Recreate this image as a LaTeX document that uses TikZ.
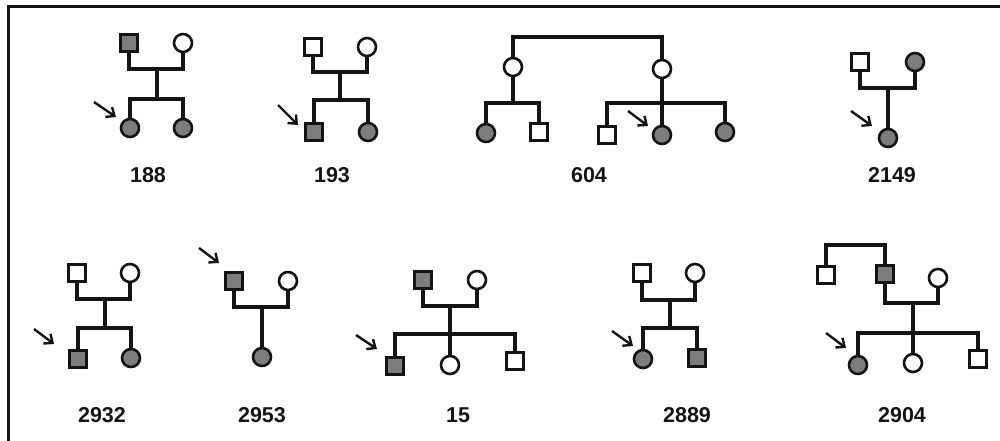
\documentclass[tikz,border=0pt]{standalone}
\usepackage{fontspec}
\setmainfont{Liberation Sans}
\usetikzlibrary{arrows.meta}
\definecolor{ink}{RGB}{20,20,20}
\definecolor{aff}{RGB}{125,125,125}
\tikzset{
  base/.style={draw=ink, line width=2.6pt, inner sep=0pt, outer sep=0pt},
  msq/.style={base, rectangle, minimum size=17.5pt, fill=white},
  fsq/.style={msq, fill=aff},
  mci/.style={base, circle, minimum size=18pt, fill=white},
  fci/.style={mci, fill=aff},
  link/.style={draw=ink, line width=3.5pt},
  proband/.style={draw=ink, line width=2.4pt, -{Straight Barb[length=7pt,width=12pt]}},
  pedlabel/.style={anchor=base, inner sep=0pt, text=ink, font=\fontsize{21.5}{24}\selectfont\bfseries},
  frame/.style={draw=ink, line width=3pt}
}
\begin{document}
\begin{tikzpicture}[x=1pt,y=-1pt]
\fill[white] (0,0) rectangle (1000,441);
\useasboundingbox (0,0) rectangle (1000,441);
\coordinate (fr1) at (1002,7);
\coordinate (fr2) at (8,7);
\coordinate (fr3) at (8,443);
\draw[frame] (fr1) -- (fr2) -- (fr3);

% ---------- 188 ----------
\coordinate (j1) at (157,69);
\coordinate (s1) at (157,99);
\node[fsq] (f1) at (129,43) {};
\node[mci] (m1) at (183,43) {};
\node[fci] (c1a) at (130,128) {};
\node[fci] (c1b) at (183,128) {};
\draw[link] (f1.south) |- (j1) -| (m1.south);
\draw[link] (j1) -- (s1);
\draw[link] (c1a.north) |- (s1) -| (c1b.north);
\coordinate (a1s) at (94,102); \coordinate (a1e) at (116,117);
\draw[proband] (a1s) -- (a1e);
\node[pedlabel] (l1) at (148,182) {188};

% ---------- 193 ----------
\coordinate (j2) at (340,72);
\coordinate (s2) at (340,100);
\node[msq] (f2) at (313,47) {};
\node[mci] (m2) at (367,47) {};
\node[fsq] (c2a) at (314,132) {};
\node[fci] (c2b) at (368,132) {};
\draw[link] (f2.south) |- (j2) -| (m2.south);
\draw[link] (j2) -- (s2);
\draw[link] (c2a.north) |- (s2) -| (c2b.north);
\coordinate (a2s) at (278,105); \coordinate (a2e) at (298,125);
\draw[proband] (a2s) -- (a2e);
\node[pedlabel] (l2) at (332,182) {193};

% ---------- 604 ----------
\coordinate (t3) at (587,37);
\coordinate (s3a) at (513,103);
\coordinate (s3b) at (662,103);
\node[mci] (g1) at (513,67) {};
\node[mci] (g2) at (662,69) {};
\node[fci] (c3a) at (486,133) {};
\node[msq] (c3b) at (539,132) {};
\node[msq] (c3c) at (607,135) {};
\node[fci] (c3d) at (662,135) {};
\node[fci] (c3e) at (725,132) {};
\draw[link] (g1.north) |- (t3) -| (g2.north);
\draw[link] (g1.south) -- (s3a);
\draw[link] (c3a.north) |- (s3a) -| (c3b.north);
\draw[link] (g2.south) -- (c3d.north);
\draw[link] (c3c.north) |- (s3b) -| (c3e.north);
\coordinate (a3s) at (628,111); \coordinate (a3e) at (648,126);
\draw[proband] (a3s) -- (a3e);
\node[pedlabel] (l3) at (589,182) {604};

% ---------- 2149 ----------
\coordinate (j4) at (888,88);
\node[msq] (f4) at (860,62) {};
\node[fci] (m4) at (915,62) {};
\node[fci] (c4) at (888,138) {};
\draw[link] (f4.south) |- (j4) -| (m4.south);
\draw[link] (j4) -- (c4.north);
\coordinate (a4s) at (851,111); \coordinate (a4e) at (872,126);
\draw[proband] (a4s) -- (a4e);
\node[pedlabel] (l4) at (892,182) {2149};

% ---------- 2932 ----------
\coordinate (j5) at (105,299);
\coordinate (s5) at (105,328);
\node[msq] (f5) at (77,273) {};
\node[mci] (m5) at (130,273) {};
\node[fsq] (c5a) at (78,359) {};
\node[fci] (c5b) at (131,358) {};
\draw[link] (f5.south) |- (j5) -| (m5.south);
\draw[link] (j5) -- (s5);
\draw[link] (c5a.north) |- (s5) -| (c5b.north);
\coordinate (a5s) at (34,329); \coordinate (a5e) at (54,344);
\draw[proband] (a5s) -- (a5e);
\node[pedlabel] (l5) at (102,422) {2932};

% ---------- 2953 ----------
\coordinate (j6) at (262,307);
\node[fsq] (f6) at (234,281) {};
\node[mci] (m6) at (288,281) {};
\node[fci] (c6) at (262,357) {};
\draw[link] (f6.south) |- (j6) -| (m6.south);
\draw[link] (j6) -- (c6.north);
\coordinate (a6s) at (199,248); \coordinate (a6e) at (219,263);
\draw[proband] (a6s) -- (a6e);
\node[pedlabel] (l6) at (262,422) {2953};

% ---------- 15 ----------
\coordinate (j7) at (450,306);
\coordinate (s7) at (450,334);
\node[fsq] (f7) at (423,280) {};
\node[mci] (m7) at (477,280) {};
\node[fsq] (c7a) at (395,366) {};
\node[mci] (c7b) at (450,365) {};
\node[msq] (c7c) at (515,361) {};
\draw[link] (f7.south) |- (j7) -| (m7.south);
\draw[link] (j7) -- (c7b.north);
\draw[link] (c7a.north) |- (s7) -| (c7c.north);
\coordinate (a7s) at (356,335); \coordinate (a7e) at (377,349);
\draw[proband] (a7s) -- (a7e);
\node[pedlabel] (l7) at (458,422) {15};

% ---------- 2889 ----------
\coordinate (j8) at (670,300);
\coordinate (s8) at (670,328);
\node[msq] (f8) at (642,273) {};
\node[mci] (m8) at (695,273) {};
\node[fci] (c8a) at (643,359) {};
\node[fsq] (c8b) at (697,358) {};
\draw[link] (f8.south) |- (j8) -| (m8.south);
\draw[link] (j8) -- (s8);
\draw[link] (c8a.north) |- (s8) -| (c8b.north);
\coordinate (a8s) at (612,331); \coordinate (a8e) at (633,346);
\draw[proband] (a8s) -- (a8e);
\node[pedlabel] (l8) at (687,422) {2889};

% ---------- 2904 ----------
\coordinate (t9) at (855,245);
\coordinate (j9) at (913,303);
\coordinate (s9) at (913,333);
\node[msq] (g9a) at (826,275) {};
\node[fsq] (g9b) at (885,274) {};
\node[mci] (m9) at (938,278) {};
\node[fci] (c9a) at (858,365) {};
\node[mci] (c9b) at (913,363) {};
\node[msq] (c9c) at (978,359) {};
\draw[link] (g9a.north) |- (t9) -| (g9b.north);
\draw[link] (g9b.south) |- (j9) -| (m9.south);
\draw[link] (j9) -- (c9b.north);
\draw[link] (c9a.north) |- (s9) -| (c9c.north);
\coordinate (a9s) at (826,333); \coordinate (a9e) at (846,348);
\draw[proband] (a9s) -- (a9e);
\node[pedlabel] (l9) at (902,422) {2904};
\end{tikzpicture}
\end{document}
